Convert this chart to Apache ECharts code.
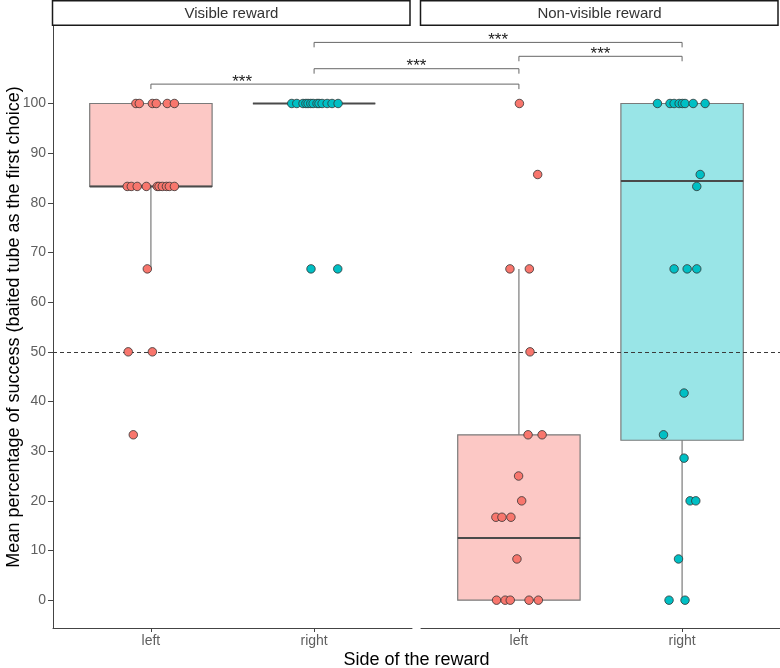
<!DOCTYPE html>
<html><head><meta charset="utf-8">
<script src="https://cdn.jsdelivr.net/npm/echarts@6/dist/echarts.min.js"></script>
<style>html,body{margin:0;padding:0;background:#fff}#c{width:780px;height:668px}</style>
</head><body><div id="c"></div>
<script>
// ---------- data ----------
const categories = ['left', 'right'];
const panels = ['Visible reward', 'Non-visible reward'];
const yTicks = [0, 10, 20, 30, 40, 50, 60, 70, 80, 90, 100];
const chanceLevel = 50;

// Visible reward – left (jitter offsets in category units)
const visLeftVals = [100, 100, 100, 100, 100, 100, 83.3, 83.3, 83.3, 83.3, 83.3, 83.3, 83.3, 83.3, 83.3, 83.3, 66.7, 50, 50, 33.3];
const visLeftJit  = [-0.092, -0.071, 0.009, 0.033, 0.100, 0.144, -0.145, -0.120, -0.084, -0.028, 0.039, 0.050, 0.070, 0.095, 0.113, 0.144, -0.022, -0.139, 0.009, -0.108];
// Visible reward – right
const visRightVals = [100, 100, 100, 100, 100, 100, 100, 100, 100, 100, 100, 100, 100, 66.7, 66.7];
const visRightJit  = [-0.137, -0.106, -0.068, -0.050, -0.037, -0.020, -0.006, 0.018, 0.030, 0.049, 0.080, 0.110, 0.147, -0.019, 0.145];
// Non-visible reward – left
const nvLeftVals = [100, 85.7, 66.7, 66.7, 50, 33.3, 33.3, 25, 20, 16.7, 16.7, 16.7, 8.3, 0, 0, 0, 0, 0];
const nvLeftJit  = [0.003, 0.115, -0.055, 0.064, 0.068, 0.056, 0.142, -0.002, 0.017, -0.141, -0.104, -0.049, -0.012, -0.137, -0.084, -0.053, 0.062, 0.119];
// Non-visible reward – right
const nvRightVals = [100, 100, 100, 100, 100, 100, 100, 100, 85.7, 83.3, 66.7, 66.7, 66.7, 41.7, 33.3, 28.6, 20, 20, 8.3, 0, 0];
const nvRightJit  = [-0.151, -0.074, -0.049, -0.018, 0.002, 0.018, 0.068, 0.141, 0.111, 0.090, -0.049, 0.031, 0.090, 0.012, -0.114, 0.012, 0.049, 0.084, -0.022, -0.080, 0.018];

// Box statistics [lower whisker, Q1, median, Q3, upper whisker]
const boxVisLeft   = [66.7, 83.3, 83.3, 100, 100];
const boxVisRight  = [100, 100, 100, 100, 100];
const boxNvLeft    = [0, 0, 12.5, 33.3, 66.7];
const boxNvRight   = [0, 32.2, 84.4, 100, 100];

// Significance brackets: [panel, category]
const sigFrom  = [[0, 2], [1, 1], [0, 2], [0, 1]];
const sigTo    = [[1, 2], [1, 2], [1, 1], [1, 1]];
const sigY     = [112.3, 109.5, 107.0, 103.9];
const sigLabel = ['***', '***', '***', '***'];
const sigLabelPos = [0.5, 0.5, 0.5, 0.248];

// ---------- style / layout ----------
const FONT = '"Liberation Sans", Arial, sans-serif';
const fills = ['#F8766D', '#00BFC4'];
const boxFills = ['rgba(248,118,109,0.4)', 'rgba(0,191,196,0.4)'];
const GRIDS = [{left: 53, top: 26, width: 359, height: 602}, {left: 421, top: 26, width: 359, height: 602}];
const BOX_W = 0.75;
const Y_MIN = -5.6, Y_MAX = 115.6;

function renderBox(params, api) {
  const x = api.value(0);
  const lo = api.value(1), q1 = api.value(2), med = api.value(3), q3 = api.value(4), hi = api.value(5);
  const ci = api.value(6);
  const half = api.size([BOX_W, 0])[0] / 2;
  const pLo = api.coord([x, lo]), pQ1 = api.coord([x, q1]), pMed = api.coord([x, med]);
  const pQ3 = api.coord([x, q3]), pHi = api.coord([x, hi]);
  const stroke = '#7a7a7a';
  const children = [];
  if (hi > q3) children.push({type: 'line', shape: {x1: pQ3[0], y1: pQ3[1], x2: pHi[0], y2: pHi[1]}, style: {stroke: stroke, lineWidth: 1.2}});
  if (lo < q1) children.push({type: 'line', shape: {x1: pLo[0], y1: pLo[1], x2: pQ1[0], y2: pQ1[1]}, style: {stroke: stroke, lineWidth: 1.2}});
  children.push({type: 'rect', shape: {x: pMed[0] - half, y: pQ3[1], width: 2 * half, height: pQ1[1] - pQ3[1]},
    style: {fill: boxFills[ci], stroke: stroke, lineWidth: 1.2}});
  children.push({type: 'line', shape: {x1: pMed[0] - half, y1: pMed[1], x2: pMed[0] + half, y2: pMed[1]},
    style: {stroke: '#4a4a4a', lineWidth: 2}});
  return {type: 'group', children: children};
}

function pts(vals, jit, cat) { return vals.map((v, i) => [cat + jit[i], v]); }

const xAxes = GRIDS.map((g, i) => ({
  type: 'value', gridIndex: i, min: 0.4, max: 2.6,
  axisLine: {show: true, onZero: false, lineStyle: {color: '#444', width: 1}},
  axisTick: {show: true, length: 4, customValues: [1, 2], lineStyle: {color: '#444'}},
  axisLabel: {customValues: [1, 2], formatter: v => categories[Math.round(v) - 1], color: '#5f5f5f', fontSize: 14, fontFamily: FONT, margin: 6},
  splitLine: {show: false}
}));
const yAxes = [
  {type: 'value', gridIndex: 0, min: Y_MIN, max: Y_MAX,
   axisLine: {show: true, onZero: false, lineStyle: {color: '#444', width: 1}},
   axisTick: {show: true, length: 5, customValues: yTicks, lineStyle: {color: '#444'}},
   axisLabel: {customValues: yTicks, color: '#5f5f5f', fontSize: 14, fontFamily: FONT, margin: 7},
   splitLine: {show: false}},
  {type: 'value', gridIndex: 1, min: Y_MIN, max: Y_MAX, axisLine: {show: false}, axisTick: {show: false},
   axisLabel: {show: false}, splitLine: {show: false}}
];

function scatterSeries(data, gi, ci) {
  return {type: 'scatter', xAxisIndex: gi, yAxisIndex: gi, data: data, symbolSize: 8.5, z: 10,
    itemStyle: {color: fills[ci], borderColor: '#333', borderWidth: 0.8, opacity: 1}, silent: true};
}
function chanceSeries(gi) {
  return {type: 'line', xAxisIndex: gi, yAxisIndex: gi, data: [], z: 3, silent: true,
    markLine: {silent: true, z: 3, symbol: 'none', label: {show: false},
      lineStyle: {color: '#3a3a3a', type: [4, 3], width: 1.1}, data: [{yAxis: chanceLevel}]}};
}

const series = [
  {type: 'custom', xAxisIndex: 0, yAxisIndex: 0, renderItem: renderBox, z: 2, silent: true,
   data: [[1, ...boxVisLeft, 0], [2, ...boxVisRight, 1]]},
  {type: 'custom', xAxisIndex: 1, yAxisIndex: 1, renderItem: renderBox, z: 2, silent: true,
   data: [[1, ...boxNvLeft, 0], [2, ...boxNvRight, 1]]},
  chanceSeries(0), chanceSeries(1),
  scatterSeries(pts(visLeftVals, visLeftJit, 1), 0, 0),
  scatterSeries(pts(visRightVals, visRightJit, 2), 0, 1),
  scatterSeries(pts(nvLeftVals, nvLeftJit, 1), 1, 0),
  scatterSeries(pts(nvRightVals, nvRightJit, 2), 1, 1)
];

const chart = echarts.init(document.getElementById('c'), null, {renderer: 'canvas'});
chart.setOption({
  animation: false,
  backgroundColor: '#fff',
  grid: GRIDS.map(g => Object.assign({containLabel: false}, g)),
  xAxis: xAxes, yAxis: yAxes, series: series
});

// ---------- annotations (strips, titles, brackets) ----------
const graphics = [];
GRIDS.forEach((g, i) => {
  graphics.push({type: 'rect', shape: {x: g.left - 0.5, y: 0.75, width: g.width - 1.5, height: 24.5},
    style: {fill: '#fff', stroke: '#1a1a1a', lineWidth: 1.5}, z: 10});
  graphics.push({type: 'text', x: g.left + g.width / 2 - 1, y: 13.5, z: 11,
    style: {text: panels[i], align: 'center', verticalAlign: 'middle', font: '15px ' + FONT, fill: '#333'}});
});
graphics.push({type: 'text', x: (GRIDS[0].left + GRIDS[1].left + GRIDS[1].width) / 2, y: 660, z: 11,
  style: {text: 'Side of the reward', align: 'center', verticalAlign: 'middle', font: '18px ' + FONT, fill: '#000'}});
graphics.push({type: 'text', x: 14, y: GRIDS[0].top + GRIDS[0].height / 2, rotation: Math.PI / 2, z: 11,
  style: {text: 'Mean percentage of success (baited tube as the first choice)', align: 'center', verticalAlign: 'middle', font: '18px ' + FONT, fill: '#000'}});

sigFrom.forEach((f, k) => {
  const t = sigTo[k];
  const a = chart.convertToPixel({gridIndex: f[0]}, [f[1], sigY[k]]);
  const aTip = chart.convertToPixel({gridIndex: f[0]}, [f[1], sigY[k] - 1.0]);
  const b = chart.convertToPixel({gridIndex: t[0]}, [t[1], sigY[k]]);
  const bTip = chart.convertToPixel({gridIndex: t[0]}, [t[1], sigY[k] - 1.0]);
  graphics.push({type: 'polyline', z: 9, shape: {points: [[a[0], aTip[1]], [a[0], a[1]], [b[0], b[1]], [b[0], bTip[1]]]},
    style: {stroke: '#666', lineWidth: 1, fill: null}});
  graphics.push({type: 'text', z: 9, x: a[0] + (b[0] - a[0]) * sigLabelPos[k], y: a[1] - 2,
    style: {text: sigLabel[k], align: 'center', verticalAlign: 'middle', font: '17px ' + FONT, fill: '#222'}});
});
chart.setOption({graphic: graphics});
</script></body></html>
